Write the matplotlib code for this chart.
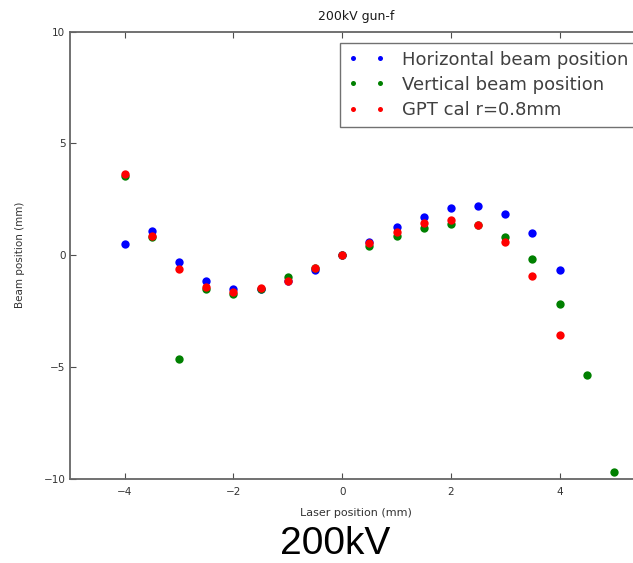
import numpy as np
import matplotlib
matplotlib.use('Agg')
import matplotlib.pyplot as plt

# laser position (mm)
x_h = [-4, -3.5, -3, -2.5, -2, -1.5, -1, -0.5, 0, 0.5, 1, 1.5, 2, 2.5, 3, 3.5, 4]
horizontal = [0.49, 1.09, -0.33, -1.18, -1.52, -1.5, -1.15, -0.66, 0.0, 0.57, 1.24, 1.72, 2.09, 2.2, 1.82, 0.97, -0.67]

x_v = [-4, -3.5, -3, -2.5, -2, -1.5, -1, -0.5, 0, 0.5, 1, 1.5, 2, 2.5, 3, 3.5, 4, 4.5, 5]
vertical = [3.55, 0.82, -4.66, -1.52, -1.75, -1.52, -0.98, -0.6, 0.0, 0.42, 0.87, 1.2, 1.39, 1.35, 0.82, -0.19, -2.17, -5.35, -9.72]

x_g = [-4, -3.5, -3, -2.5, -2, -1.5, -1, -0.5, 0, 0.5, 1, 1.5, 2, 2.5, 3, 3.5, 4]
gpt = [3.63, 0.87, -0.63, -1.42, -1.64, -1.49, -1.15, -0.58, 0.0, 0.52, 1.05, 1.45, 1.57, 1.35, 0.57, -0.93, -3.56]

W, H = 633, 563
fig = plt.figure(figsize=(W / 100, H / 100), dpi=100)
ax = fig.add_axes([0.111, 0.150, 0.902, 0.794])

ax.plot(x_h, horizontal, 'o', color='b', ms=6, mew=0, label='Horizontal beam position')
ax.plot(x_v, vertical, 'o', color='g', ms=6, mew=0, label='Vertical beam position')
ax.plot(x_g, gpt, 'o', color='r', ms=6, mew=0, label='GPT cal r=0.8mm')

ax.set_xlim(-5, 5.5)
ax.set_ylim(-10, 10)
ax.set_xticks([-4, -2, 0, 2, 4])
ax.set_yticks([-10, -5, 0, 5, 10])
ax.tick_params(direction='in', top=True, right=True, labelsize=7.5, length=4,
               color='0.3', labelcolor='0.2')
ax.tick_params(axis='x', pad=6)
for s in ax.spines.values():
    s.set_color('0.4')
    s.set_linewidth(1.3)

ax.set_xlabel('Laser position (mm)', fontsize=8, color='0.2', labelpad=8)
ax.set_ylabel('Beam position (mm)', fontsize=7.5, color='0.2')
ax.yaxis.set_label_coords(-0.08, 0.5)
ax.set_title('200kV gun-f', fontsize=9, pad=8, color='0.1')

leg = ax.legend(loc='upper left', bbox_to_anchor=(340 / W, 1 - 43 / H),
                bbox_transform=fig.transFigure, borderaxespad=0,
                numpoints=2, fontsize=13, markerscale=0.6,
                fancybox=False, handlelength=2.1, handletextpad=0.9,
                borderpad=0.42, labelspacing=0.4)
leg.get_frame().set_edgecolor('0.3')
for t in leg.get_texts():
    t.set_color('0.25')

fig.text(0.53, 0.002, '200kV', fontsize=28, family='Liberation Sans', ha='center', va='bottom')

fig.savefig('out.png', dpi=100)
